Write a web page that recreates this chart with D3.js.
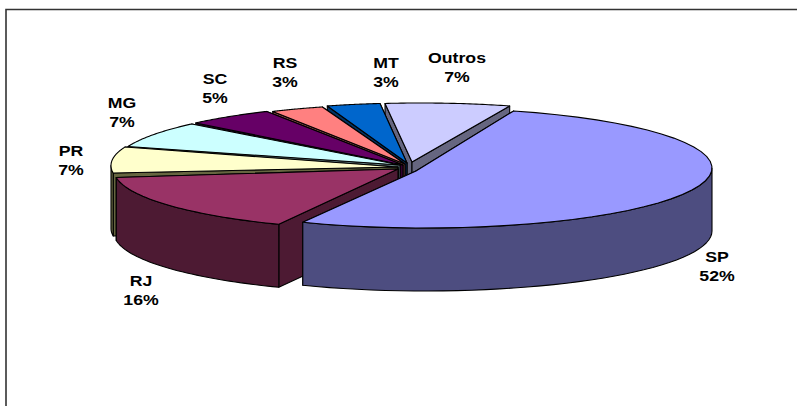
<!DOCTYPE html>
<html>
<head>
<meta charset="utf-8">
<script src="https://cdnjs.cloudflare.com/ajax/libs/d3/7.8.5/d3.min.js"></script>
<style>
html, body { margin: 0; padding: 0; background: #fff; }
svg { display: block; }
text { font-family: "Liberation Sans", Arial, sans-serif; font-weight: bold; font-size: 15px; fill: #000; }
</style>
</head>
<body>
<svg id="chart" width="797" height="406"></svg>
<script>
// Share of each state, in percent, clockwise from the first slice
const categories = ["SP", "RJ", "PR", "MG", "SC", "RS", "MT", "Outros"];
const shares = [52, 16, 7, 7, 5, 3, 3, 7];
const topColors = ["#9999FF", "#993366", "#FFFFCC", "#CCFFFF", "#660066", "#FF8080", "#0066CC", "#CCCCFF"];
const wallColors = ["#4D4D80", "#4D1A33", "#666640", "#668080", "#330033", "#804040", "#003366", "#666680"];

// Exploded slices: rim centre and tip of each wedge
const rimCentres = [[425, 168], [401, 170], [398, 165.5], [401, 165], [405, 164], [411, 164], [416, 163], [421, 163]];
const tips = [[416, 171], [398, 169], [398, 167], [400, 165], [403, 165], [405, 164], [407, 163], [412, 162]];
// Label anchors: centre x, baseline of the name line
const labelAnchors = [[717, 262], [141, 286], [71, 156], [122, 108], [215, 84], [285, 68], [386, 68], [457, 63]];

const radiusX = 287, radiusY = 60, depth = 63;
const firstAngle = 18 * Math.PI / 180;

const svg = d3.select("#chart");

// Chart frame: only top and left edges fall inside the canvas
svg.append("path")
  .attr("d", "M6,406V9.5H797")
  .attr("fill", "none").attr("stroke", "#333").attr("stroke-width", 1.6);

const pie = d3.pie().sort(null).startAngle(firstAngle).endAngle(firstAngle + 2 * Math.PI);
const slices = pie(shares).map((s, i) => ({ ...s, i }));

const rimScaleX = d3.scaleLinear().domain([-1, 1]).range([-radiusX, radiusX]);
const rimScaleY = d3.scaleLinear().domain([-1, 1]).range([-radiusY, radiusY]);
const rimPoint = (c, a, drop = 0) => [
  c[0] + rimScaleX(Math.sin(a)),
  c[1] + rimScaleY(-Math.cos(a)) + drop
];
const line = d3.line().curve(d3.curveLinear);
const sweep = (a0, a1) => d3.range(0, 41).map(k => a0 + (a1 - a0) * k / 40);

// Painted from the back of the pie to the front
const paintOrder = [7, 6, 5, 4, 3, 2, 1, 0];
const g = svg.append("g").attr("stroke", "#000").attr("stroke-width", 1.1).attr("stroke-linejoin", "round");

paintOrder.forEach(i => {
  const s = slices[i], c = rimCentres[i], tip = tips[i];
  const tipLow = [tip[0], tip[1] + depth];

  // Cut faces, the far one first
  [s.startAngle, s.endAngle]
    .sort((a, b) => Math.cos(b) - Math.cos(a))
    .forEach(a => {
      const edge = rimPoint(c, a), low = rimPoint(c, a, depth);
      g.append("path")
        .attr("d", line([tip, edge, low, tipLow]) + "Z")
        .attr("fill", wallColors[i]);
    });

  // Outer rim wall, the part turned to the viewer
  const from = Math.max(s.startAngle, Math.PI / 2);
  const to = Math.min(s.endAngle, 3 * Math.PI / 2);
  if (to > from) {
    const arc = sweep(from, to);
    const upper = arc.map(a => rimPoint(c, a));
    const lower = arc.map(a => rimPoint(c, a, depth)).reverse();
    g.append("path")
      .attr("d", line(upper.concat(lower)) + "Z")
      .attr("fill", wallColors[i]);
  }

  // Top face
  const rim = sweep(s.startAngle, s.endAngle).map(a => rimPoint(c, a));
  g.append("path")
    .attr("d", line([tip].concat(rim)) + "Z")
    .attr("fill", topColors[i]);
});

// Two-line labels, stretched wide like the rest of the drawing
const labels = svg.append("g").selectAll("g").data(slices).join("g")
  .attr("transform", d => `translate(${labelAnchors[d.i][0]},${labelAnchors[d.i][1]}) scale(1.18,1)`);
labels.append("text").attr("text-anchor", "middle").text(d => categories[d.i]);
labels.append("text").attr("text-anchor", "middle").attr("y", 19.5).text(d => d.data + "%");
</script>
</body>
</html>
